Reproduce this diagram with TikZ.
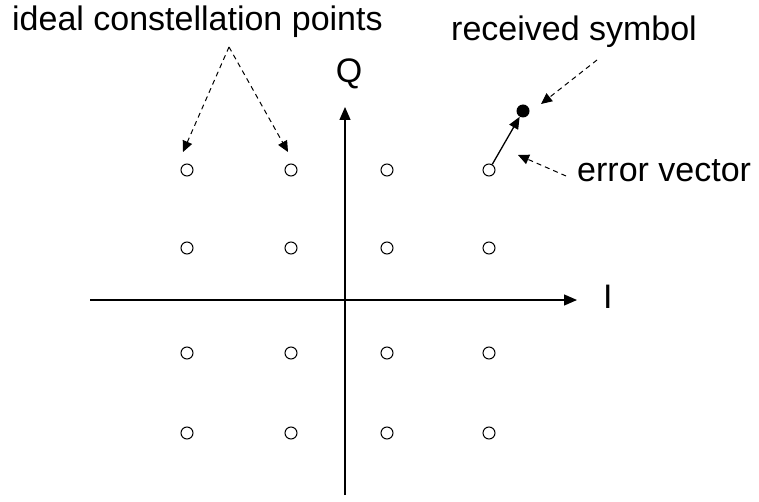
\documentclass[tikz,border=0pt]{standalone}
\usepackage{fontspec}
\setmainfont{Liberation Sans}
\usetikzlibrary{arrows.meta}
\begin{document}
\begin{tikzpicture}[x=1pt,y=-1pt,
  lbl/.style={inner sep=0pt,font=\fontsize{34}{40}\selectfont},
  ideal/.style={circle,draw,line width=1pt,minimum size=12pt,inner sep=0pt},
  rx/.style={circle,fill,minimum size=13pt,inner sep=0pt},
  axis/.style={line width=1.3pt,-{Triangle[length=13pt,width=11pt]}},
  callout/.style={dashed,dash pattern=on 5pt off 4pt,line width=1pt,-{Triangle[length=11pt,width=10pt]}},
  vec/.style={line width=1.3pt,-{Triangle[length=12pt,width=10pt]}}]
\useasboundingbox (0,0) rectangle (759,502);

% I/Q axes
\coordinate (xs) at (90,300);
\coordinate (xe) at (577,300);
\coordinate (ys) at (345,495);
\coordinate (ye) at (345,107);
\draw[axis] (xs) -- (xe);
\draw[axis] (ys) -- (ye);
\node[lbl,anchor=base] (ql) at (349,83) {Q};
\node[lbl,anchor=base west] (il) at (603,308) {I};

% 16-point constellation
\foreach \c/\x in {1/187,2/291,3/387,4/489}
  \foreach \r/\y in {1/170,2/248,3/353,4/433}
    \node[ideal] (p\c\r) at (\x,\y) {};

% received symbol and error vector
\node[rx] (rs) at (523,111) {};
\draw[vec] (p41) -- (rs);

% labels
\node[lbl,anchor=base west] (idl) at (12,31) {ideal constellation points};
\node[lbl,anchor=base west] (rsl) at (451,41) {received symbol};
\node[lbl,anchor=base west] (evl) at (577,182) {error vector};

% dashed callouts
\coordinate (ia) at (229,47);
\coordinate (ra) at (597,60);
\coordinate (ea) at (566,176);
\coordinate (ta) at (183,152);
\coordinate (tb) at (288,152);
\coordinate (tr) at (541,104);
\coordinate (te) at (518,155);
\draw[callout] (ia) -- (ta);
\draw[callout] (ia) -- (tb);
\draw[callout] (ra) -- (tr);
\draw[callout] (ea) -- (te);
\end{tikzpicture}
\end{document}
